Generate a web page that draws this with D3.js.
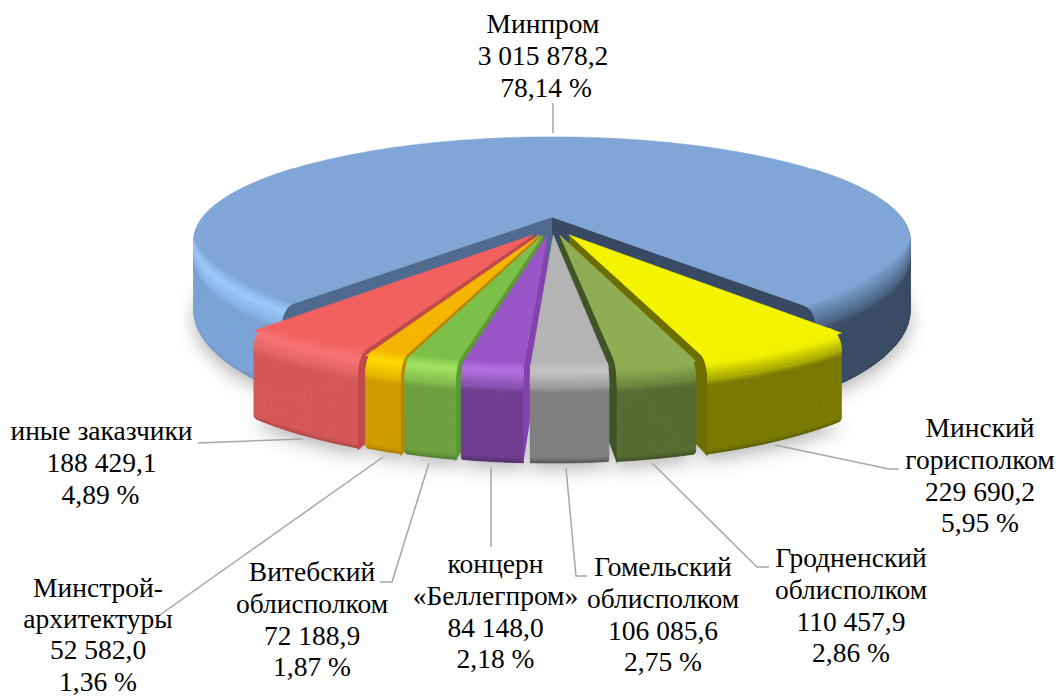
<!DOCTYPE html>
<html><head><meta charset="utf-8">
<script src="https://cdnjs.cloudflare.com/ajax/libs/d3/7.8.5/d3.min.js"></script>
<style>html,body{margin:0;padding:0;background:#fff}svg{display:block}text{font-family:"Liberation Serif",serif;font-size:27.5px;fill:#000}</style>
</head><body><svg id="c" width="1060" height="697"></svg>
<script>
const names = ["Минпром","Минский горисполком","Гродненский облисполком","Гомельский облисполком","концерн «Беллегпром»","Витебский облисполком","Минстрой-архитектуры","иные заказчики"];
const values = [3015878.2,229690.2,110457.9,106085.6,84148.0,72188.9,52582.0,188429.1];
const shares = ["78,14 %","5,95 %","2,86 %","2,75 %","2,18 %","1,87 %","1,36 %","4,89 %"];
const valueLabels = ["3 015 878,2","229 690,2","110 457,9","106 085,6","84 148,0","72 188,9","52 582,0","188 429,1"];
const labelLines = [["Минпром"],["Минский","горисполком"],["Гродненский","облисполком"],["Гомельский","облисполком"],["концерн","«Беллегпром»"],["Витебский","облисполком"],["Минстрой-","архитектуры"],["иные заказчики"]];
const topColors  = ["#7fa6d6","#f4f400","#8fae52","#b4b4b4","#9a55c8","#7cc04a","#f5b400","#f26161"];
const hiColors   = ["#9ccafc","#f0f000","#8fae52","#c6c6c6","#b272e4","#a4e462","#ffdc00","#f87474"];
const wallColors = ["#7ba3d6","#7a7a00","#566b32","#808080","#6f3c90","#6ea040","#d09c00","#d55757"];
const sideColors = ["#4f6a8e","#6e6e00","#3f5226","#777777","#8443ae","#5d9a36","#b58700","#c04848"];
const edgeDark   = ["#6e92c0","#5c5c00","#3d4d22","#505050","#4f2a68","#4c7a2c","#a87c00","#b04444"];
// layout of label blocks and leaders
const labelX = [543,980,851,663,495.5,312,98,101.5];
const labelY = [33,437,567,576,573,581,597,440];
const labelGap = [31.8,31.8,31.8,31.8,31.8,31.8,31.2,31.8];
const shareShift = [3,0,0,0,0,0,0,-1];
const leaders = [[[553,103],[553,133]],[[899,469],[889,469],[775,445]],[[769,567],[757,567],[652,463]],[[587,576],[576,576],[566,468]],[[491,547],[491,467]],[[380,582],[392,582],[429,463]],[[157,617],[383,457]],[[198,443],[303,439]]];

const rad = d => d*Math.PI/180;
const pie = d3.pie().sort(null).value(d=>d).startAngle(rad(220)).endAngle(rad(580));
const arcs = pie(values);
const p = 0.223, H = 72;
const sx = d3.scaleLinear().domain([-1,1]).range([552-349,552+349]);
const sy = d3.scaleLinear().domain([-1,1]).range([217-98,217+98]);
const proj = (X,Y,z=0)=>{const s=1/(1-p*Y);return [sx(X*s),sy(Y*s)+z*H*s];};
const line = d3.line();
const svg = d3.select("#c");
const defs = svg.append("defs");
defs.append("filter").attr("id","sh").attr("x","-20%").attr("y","-20%").attr("width","140%").attr("height","140%").append("feGaussianBlur").attr("stdDeviation",9);
defs.append("filter").attr("id","soft").attr("x","-5%").attr("y","-5%").attr("width","110%").attr("height","110%").append("feGaussianBlur").attr("stdDeviation",0.5);

const offset = (a,i)=>{
  if(i===0) return [0,0];
  const mid=(a.startAngle+a.endAngle)/2;
  return [0.1*Math.sin(mid), 0.175];
};
const radius = i => i===0?1:0.975;
const pt=(a,i,th,r=1)=>{const o=offset(a,i),R=r*radius(i);return [o[0]+R*Math.sin(th), o[1]-R*Math.cos(th)];};
const steps=(a)=>{const n=Math.max(3,Math.ceil((a.endAngle-a.startAngle)/rad(1.2)));return d3.range(n+1).map(k=>a.startAngle+(a.endAngle-a.startAngle)*k/n);};

// vertical profile of the wall: t runs from rim to bottom
const prof=d3.range(0,.3,.02).concat([.3,.4,.6,.8,.9,.92,.94,.96,.98,1]);
const pr=(t,fade)=>{ if(t<.2){const u=t/.2;return {r:1-.035*(1-Math.sin(u*Math.PI/2))*fade,z:.2*(1-Math.cos(u*Math.PI/2))};}
  if(t>.93){const u=(t-.93)/.07;return {r:1-.012*u*u,z:t};} return {r:1,z:t};};
function colorAt(i,th,t){
  let top=topColors[i],hi=hiColors[i],wall=wallColors[i];
  if(i===0 && Math.sin(th)>0){wall="#3a4c66";hi=d3.interpolateRgb(top,wall)(.35);}
  if(t<.1) return d3.interpolateRgb(top,hi)(t/.1);
  if(t<.26) return d3.interpolateRgb(hi,wall)((t-.1)/.16);
  if(t>.92) return d3.interpolateRgb(wall,i===0&&Math.sin(th)>0?"#34445c":edgeDark[i])((t-.92)/.08);
  return wall;
}
const chart=svg.append("g").attr("filter","url(#soft)");
// ground shadow
arcs.forEach((a,i)=>{
  const ths=steps(a);
  const pts=ths.map(th=>{const q=pt(a,i,th);return proj(q[0],q[1],1.0);});
  const o=offset(a,i);pts.push(proj(o[0],o[1],1));
  chart.append("path").attr("d",line(pts)+"Z").attr("fill","#707070").attr("opacity",.5).attr("filter","url(#sh)").attr("transform","translate(0,4)");
});
const fadeOf=(i,Y)=> i===0?Math.max(0,Math.min(1,(Y-.22)/.3)):1;
function quad(g,a,i,th0,th1,t0,t1){
  const f0=fadeOf(i,pt(a,i,th0)[1]), f1=fadeOf(i,pt(a,i,th1)[1]);
  const A0=pr(t0,f0),A1=pr(t0,f1),B0=pr(t1,f0),B1=pr(t1,f1);
  const q00=pt(a,i,th0,A0.r),q10=pt(a,i,th1,A1.r),q01=pt(a,i,th0,B0.r),q11=pt(a,i,th1,B1.r);
  const c=colorAt(i,(th0+th1)/2,(t0+t1)/2);
  g.append("path").attr("d",line([proj(q00[0],q00[1],A0.z),proj(q10[0],q10[1],A1.z),proj(q11[0],q11[1],B1.z),proj(q01[0],q01[1],B0.z)])+"Z").attr("fill",c).attr("stroke",c).attr("stroke-width",.7);
}
function drawSlice(a,i){
  const g=chart.append("g");
  const o=offset(a,i), ths=steps(a);
  const mid=(a.startAngle+a.endAngle)/2;
  const nB=prof.findIndex(t=>t>=.2);
  const wallEdge=(th,col)=>{const q=pt(a,i,th);
    g.append("path").attr("d",line([proj(o[0],o[1],0),proj(q[0],q[1],0),proj(q[0],q[1],1),proj(o[0],o[1],1)])+"Z").attr("fill",col);};
  if(i===0){ wallEdge(a.startAngle,"#4f6a8e"); wallEdge(a.endAngle,"#374a63"); }
  else wallEdge(Math.sin(mid)>0?a.endAngle:a.startAngle,sideColors[i]);
  // wall segments from back to front so nearer ones stay on top
  const order=d3.range(ths.length-1).sort((u,v)=>pt(a,i,ths[u])[1]-pt(a,i,ths[v])[1]);
  order.forEach(k=>{
    if(pt(a,i,ths[k])[1]<-0.55) return;
    for(let j=0;j<prof.length-1;j++) quad(g,a,i,ths[k],ths[k+1],prof[j],prof[j+1]);
  });
  const rimPts=ths.map(th=>{const q=pt(a,i,th);return proj(q[0],q[1],0);});
  g.append("path").attr("d",line([proj(o[0],o[1],0),...rimPts])+"Z").attr("fill",topColors[i]).attr("stroke",topColors[i]).attr("stroke-width",.5);
  // bevel above the top face on the side facing the viewer
  order.forEach(k=>{
    if(pt(a,i,ths[k])[1]<0.22 || pt(a,i,ths[k+1])[1]<0.22) return;
    for(let j=0;j<nB;j++) quad(g,a,i,ths[k],ths[k+1],prof[j],prof[j+1]);
  });
}
d3.range(arcs.length).sort((x,y)=>{
  const f=i=>i===0?1e3:Math.abs(Math.sin((arcs[i].startAngle+arcs[i].endAngle)/2));
  return f(y)-f(x);
}).forEach(i=>drawSlice(arcs[i],i));

svg.append("g").selectAll("path").data(leaders).join("path").attr("d",d=>line(d)).attr("fill","none").attr("stroke","#a6a6a6").attr("stroke-width",1.5);
names.forEach((n,i)=>{
  const lines=[...labelLines[i],valueLabels[i],shares[i]];
  const t=svg.append("text").attr("text-anchor","middle");
  lines.forEach((l,j)=>t.append("tspan").attr("x",labelX[i]+(j===lines.length-1?shareShift[i]:0)).attr("y",labelY[i]+j*labelGap[i]).text(l));
});
</script></body></html>
